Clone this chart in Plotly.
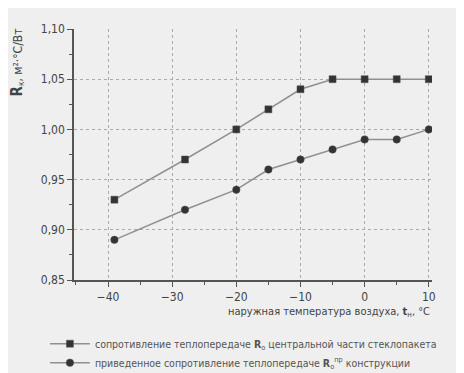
import plotly.graph_objects as go

temps = [-39, -28, -20, -15, -10, -5, 0, 5, 10]
r_center = [0.93, 0.97, 1.00, 1.02, 1.04, 1.05, 1.05, 1.05, 1.05]
r_reduced = [0.89, 0.92, 0.94, 0.96, 0.97, 0.98, 0.99, 0.99, 1.00]

name_center = "сопротивление теплопередаче <b>R</b><sub>о</sub> центральной части стеклопакета"
name_reduced = "приведенное сопротивление теплопередаче <b>R</b><sub>о</sub><sup>пр</sup> конструкции"

FONT = "DejaVu Sans Condensed, Roboto, sans-serif"
BG = "#efefef"

fig = go.Figure()
fig.add_trace(go.Scatter(
    x=temps, y=r_center, mode="lines+markers", name=name_center,
    line=dict(color="#909090", width=1.5),
    marker=dict(symbol="square", size=7, color="#333333", line=dict(color="#555555", width=0.5)),
))
fig.add_trace(go.Scatter(
    x=temps, y=r_reduced, mode="lines+markers", name=name_reduced,
    line=dict(color="#909090", width=1.5),
    marker=dict(symbol="circle", size=7.5, color="#333333", line=dict(color="#555555", width=0.5)),
))

fig.update_layout(
    width=456, height=365,
    margin=dict(l=66, r=32, t=21, b=93, autoexpand=False),
    paper_bgcolor=BG, plot_bgcolor=BG,
    separators=", ",
    font=dict(family=FONT, size=11, color="#444444"),
    showlegend=True,
    legend=dict(
        xref="container", yref="container", x=0.081, y=0.12,
        xanchor="left", yanchor="top",
        font=dict(family=FONT, size=10.5, color="#555555"),
        bgcolor="rgba(0,0,0,0)", itemwidth=40, tracegroupgap=0,
    ),
    xaxis=dict(
        range=[-45.3, 10.5], tickmode="linear", tick0=0, dtick=10,
        showline=True, linecolor="#555555", linewidth=1.5,
        ticks="outside", ticklen=5, tickcolor="#555555",
        minor=dict(dtick=5, tick0=0, ticks="outside", ticklen=3, tickcolor="#555555", showgrid=False),
        showgrid=True, gridcolor="#aaaaaa", griddash="dot", gridwidth=1,
        zeroline=False, tickfont=dict(family=FONT, size=12, color="#444444"),
    ),
    yaxis=dict(
        range=[0.85, 1.10], tickmode="linear", tick0=0.85, dtick=0.05, tickformat=".2f",
        showline=True, linecolor="#555555", linewidth=1.5,
        ticks="outside", ticklen=5, tickcolor="#555555",
        minor=dict(dtick=0.025, tick0=0.85, ticks="outside", ticklen=3, tickcolor="#555555", showgrid=False),
        showgrid=True, gridcolor="#aaaaaa", griddash="dot", gridwidth=1,
        zeroline=False, tickfont=dict(family=FONT, size=12, color="#444444"),
    ),
)

fig.add_annotation(
    text="<span style='font-size:15px'><b>R</b></span><sub>к</sub>, м²·°C/Вт", textangle=-90,
    xref="paper", yref="paper", x=0, y=1, xanchor="right", yanchor="top",
    xshift=-46, yshift=2, showarrow=False,
    font=dict(family=FONT, size=12, color="#444444"),
)
fig.add_annotation(
    text="наружная температура воздуха, <b>t</b><sub>н</sub>, °C",
    xref="paper", yref="paper", x=1, y=0, xanchor="right", yanchor="top",
    xshift=0, yshift=-23, showarrow=False,
    font=dict(family=FONT, size=11, color="#444444"),
)

fig.write_html("out.html")
